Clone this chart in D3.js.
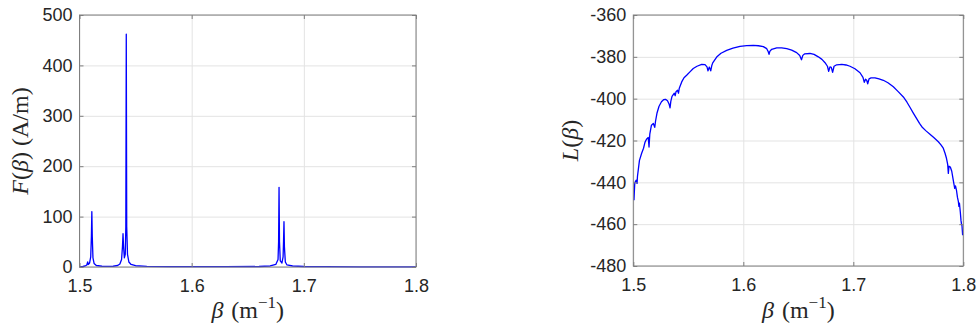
<!DOCTYPE html>
<html><head><meta charset="utf-8">
<script src="https://cdn.jsdelivr.net/npm/d3@7"></script>
<style>body{margin:0;background:#fff}svg{display:block}</style>
</head><body>
<svg id="c" width="978" height="329"></svg>
<script>
// ---- data ----
const xTicks = [1.5, 1.6, 1.7, 1.8];
const fTicks = [0, 100, 200, 300, 400, 500];
const lTicks = [-480, -460, -440, -420, -400, -380, -360];

const fBeta = [1.500,1.503,1.505,1.5065,1.5073,1.5078,1.5090,1.5100,1.5106,1.5110,1.5114,1.5120,1.5130,1.5150,1.520,1.525,1.530,1.534,1.536,1.5375,1.5383,1.5388,1.5393,1.5400,1.5408,1.5413,1.5417,1.5421,1.5428,1.5440,1.546,1.550,1.560,1.580,1.600,1.630,1.660,1.670,1.675,1.677,1.6775,1.6779,1.6783,1.6790,1.6805,1.6815,1.6819,1.6823,1.6827,1.6835,1.685,1.690,1.700,1.720,1.750,1.800];
const fVal  = [0.5,1,2,4,10,5,8,20,60,110,60,18,7,3,1.5,1.2,1.5,3,6,15,40,66,40,18,25,80,462,80,25,10,5,2.5,1.2,0.8,0.6,0.6,1,2,5,15,50,158,50,12,8,20,50,90,40,10,4,2,1,0.6,0.4,0.3];

const lBeta = [1.5006,1.5013,1.5020,1.5027,1.5034,1.5038,1.5056,1.5076,1.5093,1.5106,1.5120,1.5136,1.5143,1.5150,1.5165,1.5182,1.5195,1.5202,1.5215,1.5234,1.5256,1.5275,1.5293,1.5311,1.5326,1.5334,1.5341,1.5352,1.5373,1.5381,1.5388,1.5402,1.5411,1.5418,1.5440,1.5461,1.5485,1.5515,1.5545,1.5579,1.5622,1.5652,1.5670,1.5679,1.5691,1.5704,1.5713,1.5722,1.5758,1.5797,1.5849,1.5906,1.5970,1.6031,1.6091,1.6138,1.6182,1.6213,1.6227,1.6234,1.6241,1.6258,1.6304,1.6349,1.6395,1.6440,1.6485,1.6513,1.6529,1.6541,1.6556,1.6606,1.6643,1.6682,1.6715,1.6743,1.6765,1.6776,1.6788,1.6800,1.6812,1.6825,1.6849,1.6895,1.6934,1.6970,1.7015,1.7061,1.7088,1.7100,1.7111,1.7122,1.7131,1.7143,1.7161,1.7197,1.7234,1.7273,1.7315,1.7364,1.7406,1.7455,1.7488,1.7515,1.7547,1.7576,1.7602,1.7629,1.7661,1.7697,1.7734,1.7773,1.7797,1.7818,1.7834,1.7847,1.7858,1.7864,1.7870,1.7882,1.7895,1.7906,1.7915,1.7922,1.7929,1.7938,1.7947,1.7955,1.7960,1.7965,1.7973,1.7979,1.7984,1.7988,1.7994];
const lVal  = [-448.6,-440.6,-439.5,-439.0,-440.5,-437.1,-429.5,-426.1,-423.7,-420.9,-419.4,-418.5,-423.1,-417.0,-412.7,-411.9,-413.7,-410.8,-407.0,-403.6,-401.5,-400.5,-400.3,-401.0,-402.7,-404.4,-401.3,-398.9,-397.4,-398.6,-396.7,-396.0,-397.4,-395.0,-392.0,-390.0,-388.8,-387.2,-385.6,-384.5,-383.6,-383.7,-384.8,-386.7,-384.9,-386.7,-384.3,-382.9,-380.1,-378.3,-376.9,-375.8,-375.0,-374.6,-374.5,-374.7,-375.1,-376.1,-377.6,-378.8,-377.4,-376.4,-375.7,-375.7,-376.1,-376.8,-378.0,-379.4,-381.4,-379.3,-378.6,-378.4,-378.8,-380.0,-381.2,-382.8,-384.5,-386.9,-384.8,-385.0,-387.4,-384.5,-383.8,-383.6,-383.9,-384.5,-385.7,-387.6,-389.8,-392.2,-390.7,-391.2,-392.9,-390.5,-390.1,-390.1,-390.5,-391.2,-392.4,-394.3,-396.5,-399.2,-401.7,-404.1,-407.0,-409.5,-411.8,-413.8,-415.4,-417.0,-418.7,-420.6,-422.1,-423.7,-426.1,-428.5,-431.4,-435.7,-432.3,-432.7,-434.7,-438.1,-440.9,-442.9,-441.7,-443.8,-447.2,-449.1,-451.5,-450.0,-454.3,-458.2,-460.1,-460.6,-465.3];

// ---- drawing ----
const svg = d3.select("#c");
const tickFont = "'Liberation Sans', Arial, Helvetica, sans-serif";
const mathFont = "'Liberation Serif', 'Times New Roman', serif";
const axisCol = "#262626";
const boxCol = "#7f7f7f";
const gridCol = "#e3e3e3";

function panel(cfg) {
  const x = d3.scaleLinear().domain([1.5, 1.8]).range([cfg.x0, cfg.x1]);
  const y = d3.scaleLinear().domain(cfg.yDomain).range([cfg.y1, cfg.y0]);
  const g = svg.append("g");
  const w = cfg.x1 - cfg.x0, h = cfg.y1 - cfg.y0;

  // grid
  g.append("g").attr("transform", `translate(0,${cfg.y1})`)
    .call(d3.axisBottom(x).tickValues(xTicks).tickSize(-h).tickFormat(""))
    .call(s => { s.select(".domain").remove(); s.selectAll("line").attr("stroke", gridCol); });
  g.append("g").attr("transform", `translate(${cfg.x0},0)`)
    .call(d3.axisLeft(y).tickValues(cfg.yTicks).tickSize(-w).tickFormat(""))
    .call(s => { s.select(".domain").remove(); s.selectAll("line").attr("stroke", gridCol); });

  // line
  const pts = cfg.xs.map((v, i) => [v, cfg.ys[i]]);
  g.append("path").datum(pts)
    .attr("fill", "none").attr("stroke", "#0000ff").attr("stroke-width", 1.3)
    .attr("stroke-linejoin", "round")
    .attr("d", d3.line().x(d => x(d[0])).y(d => y(d[1])));

  // box
  g.append("rect").attr("x", cfg.x0).attr("y", cfg.y0).attr("width", w).attr("height", h)
    .attr("fill", "none").attr("stroke", boxCol).attr("stroke-width", 1);

  const tk = 4;
  g.append("g").attr("transform", `translate(0,${cfg.y1})`)
    .call(d3.axisBottom(x).tickValues(xTicks).tickSize(-tk).tickPadding(12).tickFormat(d => String(d)))
    .call(s => { s.select(".domain").remove(); s.selectAll("line").attr("stroke", boxCol);
      s.selectAll("text").attr("font-family", tickFont).attr("font-size", 18).attr("fill", axisCol); });
  g.append("g").attr("transform", `translate(0,${cfg.y0})`)
    .call(d3.axisTop(x).tickValues(xTicks).tickSize(-tk).tickFormat(""))
    .call(s => { s.select(".domain").remove(); s.selectAll("line").attr("stroke", boxCol); });
  g.append("g").attr("transform", `translate(${cfg.x0},0)`)
    .call(d3.axisLeft(y).tickValues(cfg.yTicks).tickSize(-tk).tickPadding(7).tickFormat(d => String(d)))
    .call(s => { s.select(".domain").remove(); s.selectAll("line").attr("stroke", boxCol);
      s.selectAll("text").attr("font-family", tickFont).attr("font-size", 18).attr("fill", axisCol); });
  g.append("g").attr("transform", `translate(${cfg.x1},0)`)
    .call(d3.axisRight(y).tickValues(cfg.yTicks).tickSize(-tk).tickFormat(""))
    .call(s => { s.select(".domain").remove(); s.selectAll("line").attr("stroke", boxCol); });

  // x label
  const xl = g.append("text").attr("x", (cfg.x0 + cfg.x1) / 2).attr("y", 318)
    .attr("text-anchor", "middle").attr("font-family", mathFont).attr("font-size", 24).attr("fill", axisCol);
  xl.append("tspan").attr("font-style", "italic").text("β");
  xl.append("tspan").attr("dx", 2).text(" (m");
  xl.append("tspan").attr("font-size", 17).attr("dy", -10).text("−1");
  xl.append("tspan").attr("dy", 10).text(")");

  // y label
  const yl = g.append("text").attr("transform", `translate(${cfg.ylx},${(cfg.y0 + cfg.y1) / 2}) rotate(-90)`)
    .attr("text-anchor", "middle").attr("font-family", mathFont).attr("font-size", 24).attr("fill", axisCol);
  cfg.ylabel.forEach(p => {
    const t = yl.append("tspan").text(p[0]);
    if (p[1]) t.attr("font-style", "italic");
  });
}

panel({x0: 79.5, x1: 416, y0: 15, y1: 267, yDomain: [0, 500], yTicks: fTicks,
  xs: fBeta, ys: fVal, ylx: 28,
  ylabel: [["F", true], ["(", false], ["β", true], [") (A/m)", false]]});
panel({x0: 633.3, x1: 963.3, y0: 15, y1: 266, yDomain: [-480, -360], yTicks: lTicks,
  xs: lBeta, ys: lVal, ylx: 578,
  ylabel: [["L", true], ["(", false], ["β", true], [")", false]]});
</script>
</body></html>
